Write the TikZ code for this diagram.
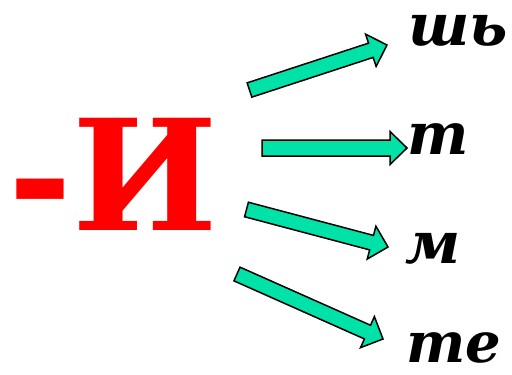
\documentclass[tikz,border=0pt]{standalone}
\usepackage{fontspec}
\usetikzlibrary{calc}
\newfontfamily\cyrfont{DejaVu Serif}
\definecolor{teal1}{RGB}{0,226,168}
\newcommand\blockarrow[5]{% tail, tip, shaft half-width, head half-width, head length
  \path (#2) coordinate (tp) ($(#2)!#5!(#1)$) coordinate (hb);
  \draw[barrow] ($(#1)!#3!90:(#2)$) -- ($(hb)!#3!90:(tp)$) -- ($(hb)!#4!90:(tp)$) -- (tp)
    -- ($(hb)!#4!-90:(tp)$) -- ($(hb)!#3!-90:(tp)$) -- ($(#1)!#3!-90:(#2)$) -- cycle;}
\begin{document}
\begin{tikzpicture}[x=1pt,y=-1pt,
  barrow/.style={draw=black,line width=1.5pt,fill=teal1,line join=miter},
  ending/.style={font=\cyrfont\bfseries\itshape\fontsize{58}{60}\selectfont,inner sep=0pt,anchor=base west,text depth=0pt},
  bigI/.style={font=\cyrfont\bfseries\fontsize{154}{160}\selectfont,text=red,inner sep=0pt,anchor=base west}]
\useasboundingbox (0,0) rectangle (512,375);
\node[bigI] (I) at (8,230) {-И};
\node[ending] (e1) at (408,45) {шь};
\node[ending] (e2) at (407,154) {т};
\node[ending] (e3) at (405,263) {м};
\node[ending,font=\cyrfont\bfseries\itshape\fontsize{56}{60}\selectfont] (e4) at (406,362) {те};
\coordinate (a1s) at (249.5,90);  \coordinate (a1e) at (387,45);
\coordinate (a2s) at (262,148);   \coordinate (a2e) at (407,148);
\coordinate (a3s) at (246.5,209.5); \coordinate (a3e) at (388,247);
\coordinate (a4s) at (237,274);   \coordinate (a4e) at (383,339);
\blockarrow{a1s}{a1e}{7.5pt}{17pt}{17pt}
\blockarrow{a2s}{a2e}{8pt}{16.5pt}{17pt}
\blockarrow{a3s}{a3e}{7.5pt}{17pt}{17pt}
\blockarrow{a4s}{a4e}{7.5pt}{17pt}{17pt}
\end{tikzpicture}
\end{document}
